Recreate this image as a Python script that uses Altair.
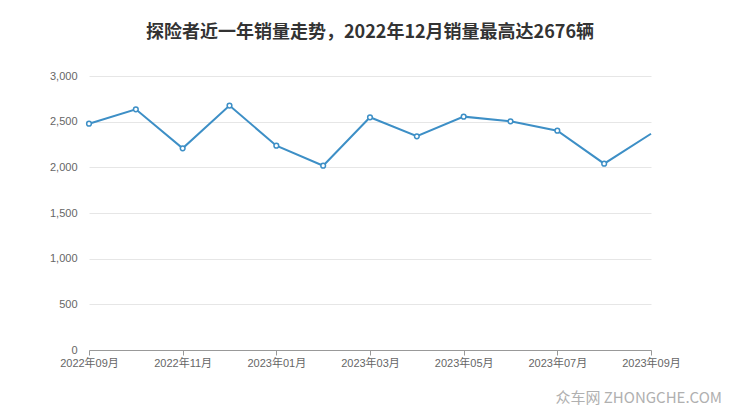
import altair as alt
import pandas as pd

months = ["2022年09月", "2022年10月", "2022年11月", "2022年12月", "2023年01月", "2023年02月",
          "2023年03月", "2023年04月", "2023年05月", "2023年06月", "2023年07月", "2023年08月", "2023年09月"]
sales = [2478, 2635, 2208, 2676, 2237, 2018, 2548, 2340, 2555, 2504, 2401, 2040, 2368]
tick_labels = ["2022年09月", "2022年11月", "2023年01月", "2023年03月", "2023年05月", "2023年07月", "2023年09月"]
title_text = "探险者近一年销量走势，2022年12月销量最高达2676辆"
watermark = "众车网  ZHONGCHE.COM"

df = pd.DataFrame({"month": months, "sales": sales, "idx": list(range(len(months)))})

color = "#3d8fc6"
font = "Liberation Sans, Noto Sans CJK SC"

x = alt.X("month:N", sort=months,
          scale=alt.Scale(type="point", padding=0),
          axis=alt.Axis(values=tick_labels, labelAngle=0, title=None, labelColor="#666",
                        labelFontSize=11, domainColor="#999", tickColor="#999", tickSize=5,
                        labelPadding=2, grid=False, labelFont=font))
y = alt.Y("sales:Q", scale=alt.Scale(domain=[0, 3000]),
          axis=alt.Axis(values=[0, 500, 1000, 1500, 2000, 2500, 3000], format=",d", title=None,
                        labelColor="#666", labelFontSize=11, domain=False, ticks=False,
                        gridColor="#e6e6e6", labelPadding=12, labelFont=font))

line = alt.Chart(df).mark_line(color=color, strokeWidth=2).encode(x=x, y=y)
pts = alt.Chart(df).transform_filter("datum.idx < 12").mark_point(
    filled=True, fill="white", stroke=color, strokeWidth=1.5, size=22, opacity=1
).encode(x=x, y=y)

wm = alt.Chart(pd.DataFrame({"t": [watermark]})).mark_text(
    align="right", baseline="middle", fontSize=15, color="#b0b0b0", font="Noto Sans CJK SC"
).encode(text="t:N", x=alt.value(633), y=alt.value(322))

chart = alt.layer(line, pts, wm).properties(
    width=562, height=274,
    title=alt.TitleParams(title_text, fontSize=18, font="Noto Sans CJK SC", fontWeight="bold",
                          color="#333", anchor="middle", offset=28),
    autosize=alt.AutoSizeParams(type="none"),
    padding={"left": 81, "top": 68, "right": 70, "bottom": 58},
).configure(background="white", view=alt.ViewConfig(stroke=None))

chart.save("out.html", embed_options={"renderer": "svg", "actions": False})
